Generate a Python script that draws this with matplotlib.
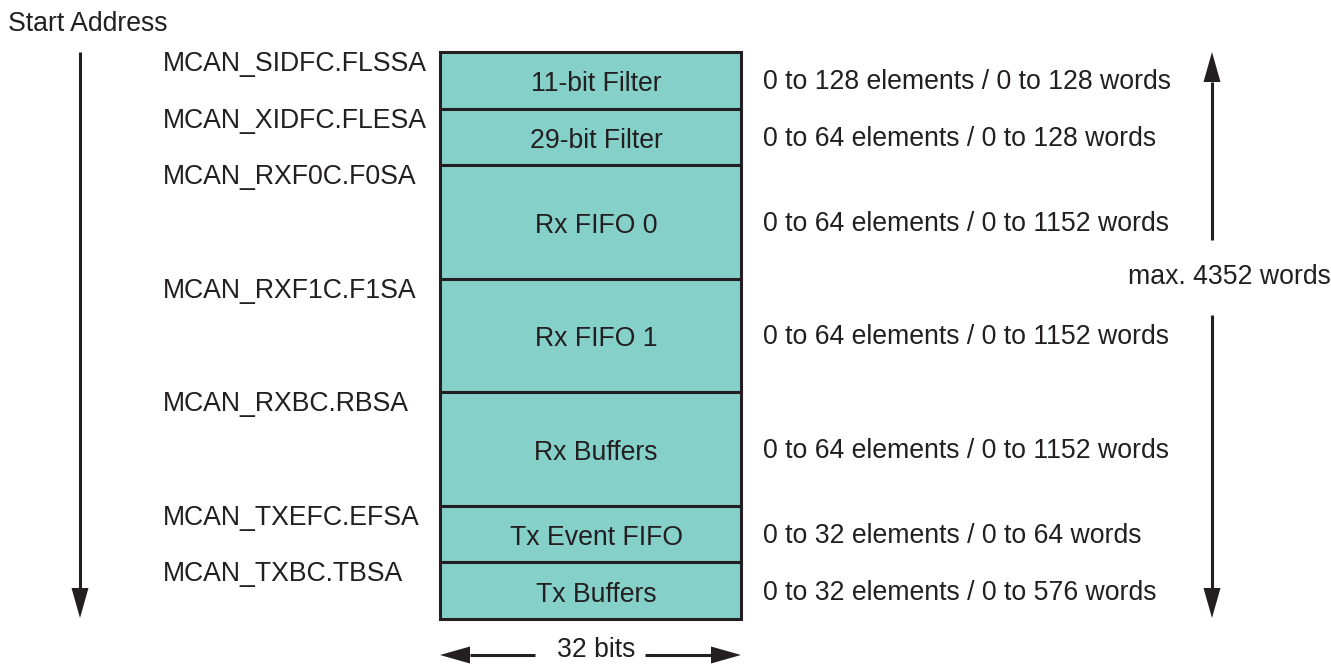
import numpy as np
import matplotlib
matplotlib.use('Agg')
import matplotlib.pyplot as plt

#message RAM layout of the MCAN
regions=['11-bit Filter','29-bit Filter','Rx FIFO 0','Rx FIFO 1','Rx Buffers','Tx Event FIFO','Tx Buffers']
start_regs=['MCAN_SIDFC.FLSSA','MCAN_XIDFC.FLESA','MCAN_RXF0C.F0SA','MCAN_RXF1C.F1SA','MCAN_RXBC.RBSA','MCAN_TXEFC.EFSA','MCAN_TXBC.TBSA']
sizes=['0 to 128 elements / 0 to 128 words','0 to 64 elements / 0 to 128 words','0 to 64 elements / 0 to 1152 words',
	'0 to 64 elements / 0 to 1152 words','0 to 64 elements / 0 to 1152 words','0 to 32 elements / 0 to 64 words',
	'0 to 32 elements / 0 to 576 words']
rel_height=[1,1,2,2,2,1,1]	#drawn height of each section (relative)
total_label='max. 4352 words'
width_label='32 bits'

plt.rcParams['font.family']=['Liberation Sans','DejaVu Sans']
ink='#231F20'
fill='#85D1CA'
fs=19.2

fig=plt.figure(figsize=(13.31,6.64),dpi=100)
ax=fig.add_axes([0,0,1,1])
ax.set_xlim(0,1331)
ax.set_ylim(664,0)
ax.axis('off')

#box geometry (pixels)
box_left=440
box_right=741
box_top=52
box_bottom=619
unit=(box_bottom-box_top)/float(sum(rel_height))
heights=np.array(rel_height)*unit
tops=box_top+np.concatenate([[0],np.cumsum(heights)[:-1]])
centers=tops+heights/2.

ax.bar((box_left+box_right)/2.,heights,bottom=tops,width=box_right-box_left,color=fill,edgecolor=ink,linewidth=2.2)

for i in range(len(regions)):
	ax.text(596,centers[i]+4,regions[i],ha='center',va='center',fontsize=fs,color=ink)
	ax.text(163,tops[i]+12,start_regs[i],ha='left',va='center',fontsize=fs,color=ink)
	ax.text(763,centers[i]+2,sizes[i],ha='left',va='center',fontsize=fs,color=ink)

ax.text(8,24,'Start Address',ha='left',va='center',fontsize=fs,color=ink)

def arrow(x0,y0,x1,y1,hl=30,hw=17,lw=2.2):
	#line plus filled triangle head pointing at (x1,y1)
	d=np.array([x1-x0,y1-y0],dtype=float)
	L=np.hypot(d[0],d[1])
	u=d/L
	n=np.array([-u[1],u[0]])
	base=np.array([x1,y1])-u*hl
	ax.plot([x0,base[0]],[y0,base[1]],color=ink,lw=lw,solid_capstyle='butt')
	tri=np.array([[x1,y1],base+n*hw/2.,base-n*hw/2.])
	ax.fill(tri[:,0],tri[:,1],color=ink,lw=0)

#start address arrow
arrow(80,52,80,618)
#max words arrow
arrow(1212,240,1212,52)
arrow(1212,315,1212,618)
ax.text(1229,277,total_label,ha='center',va='center',fontsize=fs,color=ink)
#width arrow
arrow(535,655,440,655)
arrow(645,655,741,655)
ax.text(596,657,width_label,ha='center',va='baseline',fontsize=fs,color=ink)

plt.savefig('out.png',dpi=100)
